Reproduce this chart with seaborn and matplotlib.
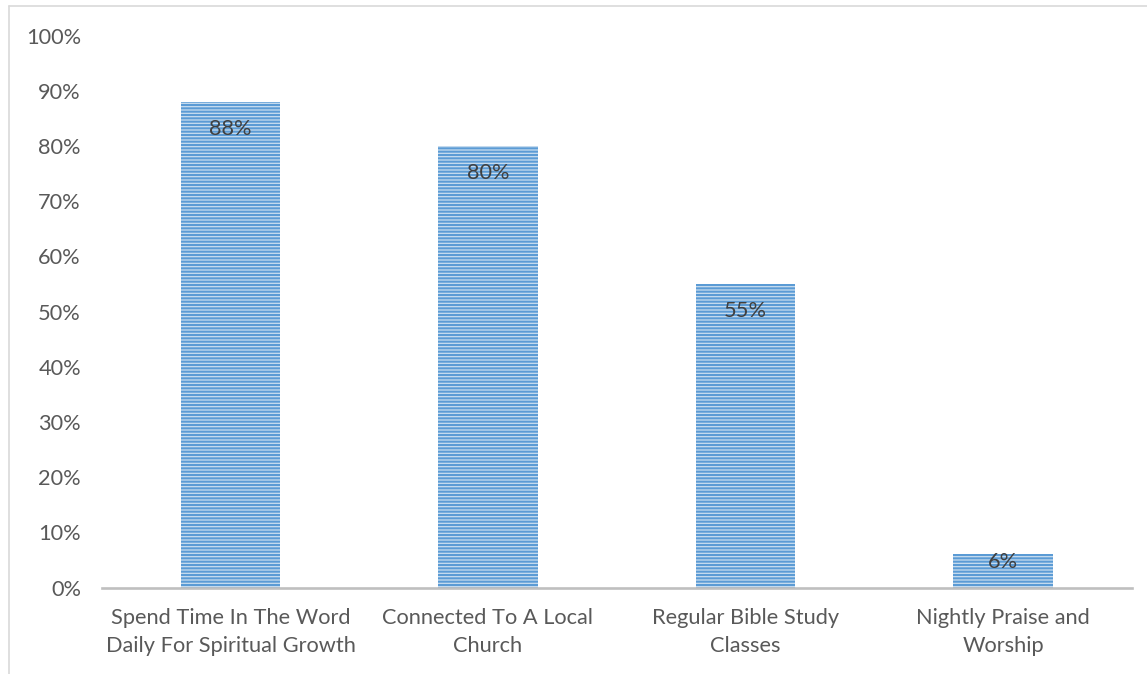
import matplotlib
matplotlib.use("Agg")
import matplotlib.pyplot as plt
from matplotlib.lines import Line2D
from matplotlib.ticker import FuncFormatter
import seaborn as sns

categories = [
    "Spend Time In The Word\nDaily For Spiritual Growth",
    "Connected To A Local\nChurch",
    "Regular Bible Study\nClasses",
    "Nightly Praise and\nWorship",
]
values = [88, 80, 55, 6]
label_texts = ["88%", "80%", "55%", "6%"]
yticks = [0, 10, 20, 30, 40, 50, 60, 70, 80, 90, 100]

sns.set_theme(style="white")
plt.rcParams["font.family"] = ["Lato", "DejaVu Sans"]
plt.rcParams["hatch.linewidth"] = 1.5

fig = plt.figure(figsize=(11.47, 6.74), dpi=100)
ax = fig.add_axes([0.0887, 0.1283, 0.9867 - 0.0887, 0.9473 - 0.1283])

sns.barplot(x=categories, y=values, ax=ax, color="#C9DDF0", saturation=1,
            width=0.385, linewidth=0)
for p in ax.patches:
    p.set_hatch("-----")
    p.set_edgecolor("#5B9BD5")
    p.set_linewidth(0)

ax.set_ylim(0, 100)
ax.set_xlim(-0.5, len(categories) - 0.5)
ax.set_yticks(yticks)
ax.yaxis.set_major_formatter(FuncFormatter(lambda v, pos: f"{int(v)}%"))
ax.tick_params(axis="y", length=0, pad=15, labelsize=15.7, labelcolor="#595959")
ax.tick_params(axis="x", length=0, pad=15, labelsize=15.7, labelcolor="#595959")
for t in ax.get_xticklabels():
    t.set_linespacing(1.5)
ax.set_xlabel("")
ax.set_ylabel("")

for s in ["top", "right", "left"]:
    ax.spines[s].set_visible(False)
ax.spines["bottom"].set_color("#BFBFBF")
ax.spines["bottom"].set_linewidth(1.9)
ax.grid(False)

for i, (v, txt) in enumerate(zip(values, label_texts)):
    off = 4.9 if v > 10 else 1.4
    ax.text(i, v - off, txt, ha="center", va="center", fontsize=15.7,
            color="#404040")

# chart area border (left and top visible)
fig.add_artist(Line2D([8.5 / 1147, 8.5 / 1147], [0, 1 - 6 / 674],
                      transform=fig.transFigure, color="#D9D9D9", linewidth=1.2))
fig.add_artist(Line2D([8.5 / 1147, 1], [1 - 6 / 674, 1 - 6 / 674],
                      transform=fig.transFigure, color="#D9D9D9", linewidth=1.2))

fig.savefig("out.png", dpi=100)
